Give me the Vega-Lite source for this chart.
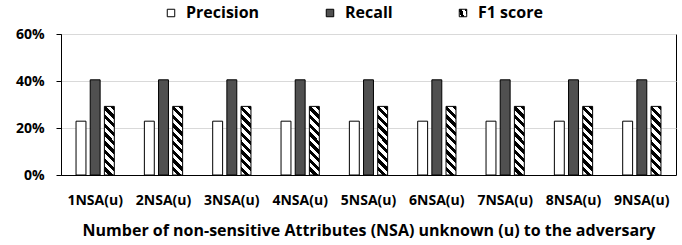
{
  "$schema": "https://vega.github.io/schema/vega-lite/v6.json",
  "width": 615,
  "height": 141,
  "autosize": {"type": "none"},
  "padding": {"left": 61, "top": 34, "right": 6, "bottom": 70},
  "background": "#ffffff",
  "config": {"font": "Open Sans", "view": {"stroke": "#000000", "strokeWidth": 1}},
  "data": {"values": [
    {"nsa": "1NSA(u)", "metric": "Precision", "value": 0.229},
    {"nsa": "1NSA(u)", "metric": "Recall", "value": 0.405},
    {"nsa": "1NSA(u)", "metric": "F1 score", "value": 0.292},
    {"nsa": "2NSA(u)", "metric": "Precision", "value": 0.229},
    {"nsa": "2NSA(u)", "metric": "Recall", "value": 0.405},
    {"nsa": "2NSA(u)", "metric": "F1 score", "value": 0.292},
    {"nsa": "3NSA(u)", "metric": "Precision", "value": 0.229},
    {"nsa": "3NSA(u)", "metric": "Recall", "value": 0.405},
    {"nsa": "3NSA(u)", "metric": "F1 score", "value": 0.292},
    {"nsa": "4NSA(u)", "metric": "Precision", "value": 0.229},
    {"nsa": "4NSA(u)", "metric": "Recall", "value": 0.405},
    {"nsa": "4NSA(u)", "metric": "F1 score", "value": 0.292},
    {"nsa": "5NSA(u)", "metric": "Precision", "value": 0.229},
    {"nsa": "5NSA(u)", "metric": "Recall", "value": 0.405},
    {"nsa": "5NSA(u)", "metric": "F1 score", "value": 0.292},
    {"nsa": "6NSA(u)", "metric": "Precision", "value": 0.229},
    {"nsa": "6NSA(u)", "metric": "Recall", "value": 0.405},
    {"nsa": "6NSA(u)", "metric": "F1 score", "value": 0.292},
    {"nsa": "7NSA(u)", "metric": "Precision", "value": 0.229},
    {"nsa": "7NSA(u)", "metric": "Recall", "value": 0.405},
    {"nsa": "7NSA(u)", "metric": "F1 score", "value": 0.292},
    {"nsa": "8NSA(u)", "metric": "Precision", "value": 0.229},
    {"nsa": "8NSA(u)", "metric": "Recall", "value": 0.405},
    {"nsa": "8NSA(u)", "metric": "F1 score", "value": 0.292},
    {"nsa": "9NSA(u)", "metric": "Precision", "value": 0.229},
    {"nsa": "9NSA(u)", "metric": "Recall", "value": 0.405},
    {"nsa": "9NSA(u)", "metric": "F1 score", "value": 0.292}
  ]},
  "mark": {"type": "bar", "stroke": "#000000", "strokeWidth": 1},
  "encoding": {
    "x": {
      "field": "nsa", "type": "nominal", "sort": null,
      "scale": {"paddingInner": 0.44, "paddingOuter": 0.22},
      "title": "Number of non-sensitive Attributes (NSA) unknown (u) to the adversary",
      "axis": {
        "ticks": false, "labelAngle": 0, "labelFontSize": 14, "labelFontWeight": "bold",
        "labelColor": "#000000", "labelPadding": 18, "domainColor": "#000000", "domainWidth": 1,
        "titleFontSize": 16, "titleFontWeight": "bold", "titleColor": "#000000", "titlePadding": 15
      }
    },
    "xOffset": {
      "field": "metric", "type": "nominal", "sort": ["Precision", "Recall", "F1 score"],
      "scale": {"paddingInner": 0.3, "paddingOuter": 0}
    },
    "y": {
      "field": "value", "type": "quantitative",
      "scale": {"domain": [0, 0.6]},
      "title": null,
      "axis": {
        "values": [0, 0.2, 0.4, 0.6], "format": ".0%", "labelFontSize": 14, "labelFontWeight": "bold",
        "labelColor": "#000000", "labelPadding": 12, "tickSize": 5, "tickColor": "#000000",
        "domainColor": "#000000", "domainWidth": 1, "gridColor": "#d9d9d9", "gridWidth": 1
      }
    },
    "fill": {
      "field": "metric", "type": "nominal", "sort": ["Precision", "Recall", "F1 score"],
      "scale": {
        "domain": ["Precision", "Recall", "F1 score"],
        "range": [
          "#ffffff",
          "#505050",
          {"expr": "{gradient: 'linear', x1: 1, y1: 0, x2: 0.836, y2: 1.122, stops: [{offset: 0, color: '#000000'}, {offset: 0.0556, color: '#000000'}, {offset: 0.0556, color: '#ffffff'}, {offset: 0.1111, color: '#ffffff'}, {offset: 0.1111, color: '#000000'}, {offset: 0.1667, color: '#000000'}, {offset: 0.1667, color: '#ffffff'}, {offset: 0.2222, color: '#ffffff'}, {offset: 0.2222, color: '#000000'}, {offset: 0.2778, color: '#000000'}, {offset: 0.2778, color: '#ffffff'}, {offset: 0.3333, color: '#ffffff'}, {offset: 0.3333, color: '#000000'}, {offset: 0.3889, color: '#000000'}, {offset: 0.3889, color: '#ffffff'}, {offset: 0.4444, color: '#ffffff'}, {offset: 0.4444, color: '#000000'}, {offset: 0.5, color: '#000000'}, {offset: 0.5, color: '#ffffff'}, {offset: 0.5556, color: '#ffffff'}, {offset: 0.5556, color: '#000000'}, {offset: 0.6111, color: '#000000'}, {offset: 0.6111, color: '#ffffff'}, {offset: 0.6667, color: '#ffffff'}, {offset: 0.6667, color: '#000000'}, {offset: 0.7222, color: '#000000'}, {offset: 0.7222, color: '#ffffff'}, {offset: 0.7778, color: '#ffffff'}, {offset: 0.7778, color: '#000000'}, {offset: 0.8333, color: '#000000'}, {offset: 0.8333, color: '#ffffff'}, {offset: 0.8889, color: '#ffffff'}, {offset: 0.8889, color: '#000000'}, {offset: 0.9444, color: '#000000'}, {offset: 0.9444, color: '#ffffff'}, {offset: 1, color: '#ffffff'}]}"}
        ]
      },
      "legend": {
        "orient": "none", "legendX": 102, "legendY": -29, "direction": "horizontal",
        "title": null, "columnPadding": 62, "labelOffset": 7, "symbolType": "square",
        "symbolSize": 56, "symbolStrokeColor": "#000000", "symbolStrokeWidth": 1,
        "labelFontSize": 16, "labelFontWeight": "bold", "labelColor": "#000000", "padding": 0
      }
    }
  }
}
